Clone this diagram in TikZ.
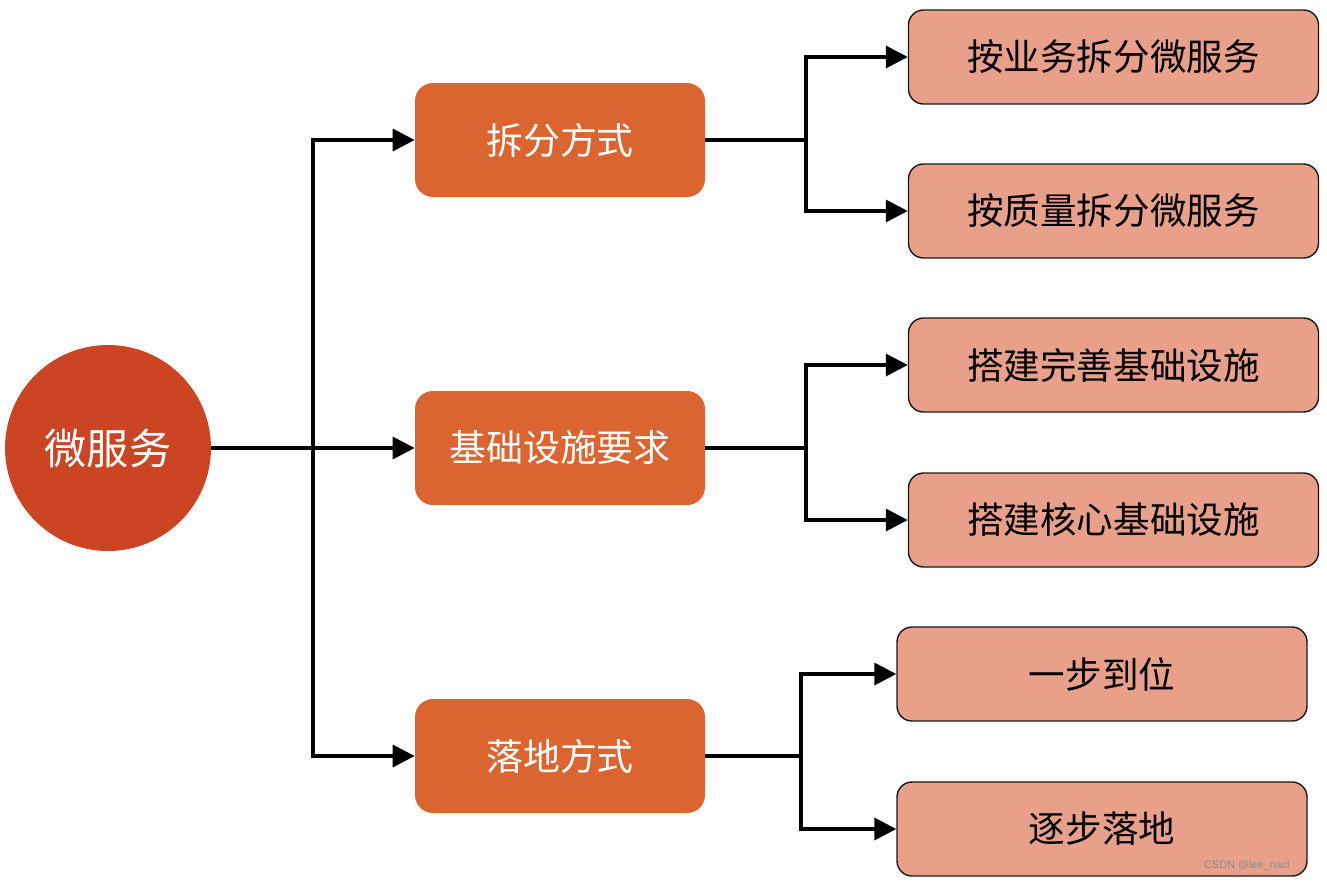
\documentclass[tikz,border=0pt]{standalone}
\usepackage{fontspec}
\setmainfont{Noto Sans CJK SC}
\newfontfamily\markfont{Liberation Sans}
\usepackage{xcolor}
\usepackage{tikz}
\usetikzlibrary{arrows.meta,positioning}

\definecolor{rootred}{HTML}{CB4524}
\definecolor{midorange}{HTML}{DA6530}
\definecolor{leafpink}{HTML}{E8A08A}

\tikzset{
    rootnode/.style={circle, fill=rootred, minimum size=4.12cm, inner sep=0pt,
        text=white, font=\fontsize{24}{28}\selectfont},
    midbox/.style={rectangle, rounded corners=0.36cm, fill=midorange,
        minimum width=5.8cm, minimum height=2.28cm, text=white,
        font=\fontsize{21}{25}\selectfont},
    leafbox/.style={rectangle, rounded corners=0.3cm, fill=leafpink, draw=black!90,
        line width=0.8pt, minimum width=8.2cm, minimum height=1.88cm,
        font=\fontsize{20.8}{25}\selectfont},
    conn/.style={line width=2pt},
    connarrow/.style={line width=2pt, -{Triangle[length=0.44cm, width=0.44cm]}}
}

\begin{document}
\begin{tikzpicture}
    \useasboundingbox (0,0) rectangle (26.54,-17.66);

    % Root
    \node[rootnode] (root) at (2.16,-8.96) {微服务};

    % Middle level
    \node[midbox] (split) at (11.2,-2.8) {拆分方式};
    \node[midbox] (infra) at (11.2,-8.96) {基础设施要求};
    \node[midbox] (land) at (11.2,-15.12) {落地方式};

    % Leaves
    \node[leafbox] (bybiz) at (22.27,-1.14) {按业务拆分微服务};
    \node[leafbox] (byqual) at (22.27,-4.22) {按质量拆分微服务};
    \node[leafbox] (fullinfra) at (22.27,-7.3) {搭建完善基础设施};
    \node[leafbox] (coreinfra) at (22.27,-10.4) {搭建核心基础设施};
    \node[leafbox] (onestep) at (22.04,-13.48) {一步到位};
    \node[leafbox] (stepwise) at (22.04,-16.58) {逐步落地};

    % Junctions
    \coordinate (jroot) at (6.26,-8.96);
    \coordinate (jsplit) at (16.12,-2.8);
    \coordinate (jinfra) at (16.12,-8.96);
    \coordinate (jland) at (16.02,-15.12);

    % Root connectors
    \draw[conn] (root.east) -- (jroot);
    \draw[connarrow] (jroot) |- (split.west);
    \draw[connarrow] (jroot) -- (infra.west);
    \draw[connarrow] (jroot) |- (land.west);

    % Middle connectors
    \draw[conn] (split.east) -- (jsplit);
    \draw[connarrow] (jsplit) |- (bybiz.west);
    \draw[connarrow] (jsplit) |- (byqual.west);

    \draw[conn] (infra.east) -- (jinfra);
    \draw[connarrow] (jinfra) |- (fullinfra.west);
    \draw[connarrow] (jinfra) |- (coreinfra.west);

    \draw[conn] (land.east) -- (jland);
    \draw[connarrow] (jland) |- (onestep.west);
    \draw[connarrow] (jland) |- (stepwise.west);

    % Watermark
    \node[anchor=east, text=black!45, font=\markfont\fontsize{6.2}{7}\selectfont, inner sep=0pt]
        (mark) at (25.8,-17.32) {CSDN @lee\_nacl};
\end{tikzpicture}
\end{document}
